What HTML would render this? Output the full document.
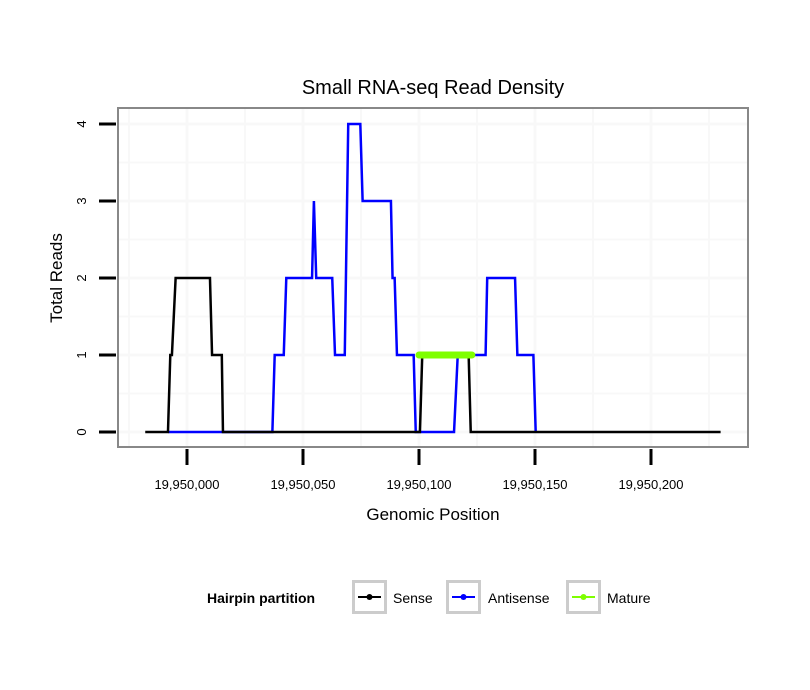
<!DOCTYPE html>
<html><head><meta charset="utf-8"><style>
body{margin:0;background:#fff}
svg{display:block;font-family:"Liberation Sans",sans-serif}
</style></head><body>
<svg id="c" width="810" height="690">
<rect x="0" y="0" width="810" height="690" fill="#fff"/>
<text x="433" y="94" font-size="20" text-anchor="middle">Small RNA-seq Read Density</text>
<g id="grid"></g>
<g id="series"></g>
<rect x="118" y="108" width="630" height="339" fill="none" stroke="#888" stroke-width="2"/>
<g id="axes"></g>
<text x="433" y="520" font-size="17" text-anchor="middle">Genomic Position</text>
<text transform="translate(62,278) rotate(-90)" font-size="17" text-anchor="middle">Total Reads</text>
<g>
<text x="207" y="603" font-size="14" font-weight="bold">Hairpin partition</text>
<g>
<rect x="353.5" y="581.5" width="32" height="31" fill="#fff" stroke="#ccc" stroke-width="3"/>
<line x1="358" y1="597" x2="381" y2="597" stroke="#000" stroke-width="2"/><circle cx="369.5" cy="597" r="3" fill="#000"/>
<text x="393" y="603" font-size="14">Sense</text></g>
<g>
<rect x="447.5" y="581.5" width="32" height="31" fill="#fff" stroke="#ccc" stroke-width="3"/>
<line x1="452" y1="597" x2="475" y2="597" stroke="#00f" stroke-width="2"/><circle cx="463.5" cy="597" r="3" fill="#00f"/>
<text x="488" y="603" font-size="14">Antisense</text></g>
<g>
<rect x="567.5" y="581.5" width="32" height="31" fill="#fff" stroke="#ccc" stroke-width="3"/>
<line x1="572" y1="597" x2="595" y2="597" stroke="#7fff00" stroke-width="2"/><circle cx="583.5" cy="597" r="3" fill="#7fff00"/>
<text x="607" y="603" font-size="14">Mature</text></g>
</g>
</svg>
<script>
const base = 19950000;
const xTicks = [0, 50, 100, 150, 200];
const xTickLabels = ["19,950,000","19,950,050","19,950,100","19,950,150","19,950,200"];
const yTicks = [0, 1, 2, 3, 4];
const senseX = [-18,-8.2,-7.2,-6.5,-4.9,9.9,10.8,15,15.5,100.4,101.4,121.4,122.3,230];
const senseY = [0,0,1,1,2,2,1,1,0,0,1,1,0,0];
const antiX = [-8,36.8,37.8,41.7,42.8,53.9,54.7,55.7,62.6,63.8,68,69.5,74.7,75.7,87.9,88.6,89.5,90.5,97.7,98.6,115.1,116.7,128.7,129.4,141.4,142.4,149.3,150.3];
const antiY = [0,0,1,1,2,2,3,2,2,1,1,4,4,3,3,2,2,1,1,0,0,1,1,2,2,1,1,0];
const matureX = [100, 122.8];
const matureY = [1, 1];
const NS="http://www.w3.org/2000/svg";
function sx(v){return 187+v*2.32;}
function sy(v){return 432-v*77;}
function mk(t,a,p){const e=document.createElementNS(NS,t);for(const k in a)e.setAttribute(k,a[k]);p.appendChild(e);return e;}
const grid=document.getElementById('grid'),ax=document.getElementById('axes'),se=document.getElementById('series');
for(let v=-25;v<=225;v+=25){const e=mk('line',{x1:sx(v),x2:sx(v),y1:109,y2:446,stroke:'#f8f8f8','stroke-width':v%50===0?3:2},grid);

}
for(let v=-0.5;v<=4.5;v+=0.5){const y=sy(v);if(y<109||y>446)continue;const e=mk('line',{x1:119,x2:747,y1:y,y2:y,stroke:'#f8f8f8','stroke-width':v%1===0?3:2},grid);

}
xTicks.forEach((v,i)=>{const t=mk('line',{x1:sx(v),x2:sx(v),y1:449,y2:465,stroke:'#000','stroke-width':3},ax);


const l=mk('text',{x:sx(v),y:489,'font-size':13,'text-anchor':'middle'},ax);l.textContent=xTickLabels[i];

});
yTicks.forEach(v=>{const t=mk('line',{x1:99,x2:116,y1:sy(v),y2:sy(v),stroke:'#000','stroke-width':3},ax);


const l=mk('text',{transform:`translate(86,${sy(v)}) rotate(-90)`,'font-size':13,'text-anchor':'middle'},ax);l.textContent=v;

});
function line(xs,ys,c,w,name,cap){const p=mk('polyline',{points:xs.map((x,i)=>sx(x)+','+sy(ys[i])).join(' '),fill:'none',stroke:c,'stroke-width':w,'stroke-linecap':cap||'butt','stroke-linejoin':'miter'},se);

}
line(antiX,antiY,'#0000ff',2.5,'antisense-line');
line(senseX,senseY,'#000',2.5,'sense-line');
line(matureX,matureY,'#7fff00',7,'mature-line','round');
</script>
</body></html>
